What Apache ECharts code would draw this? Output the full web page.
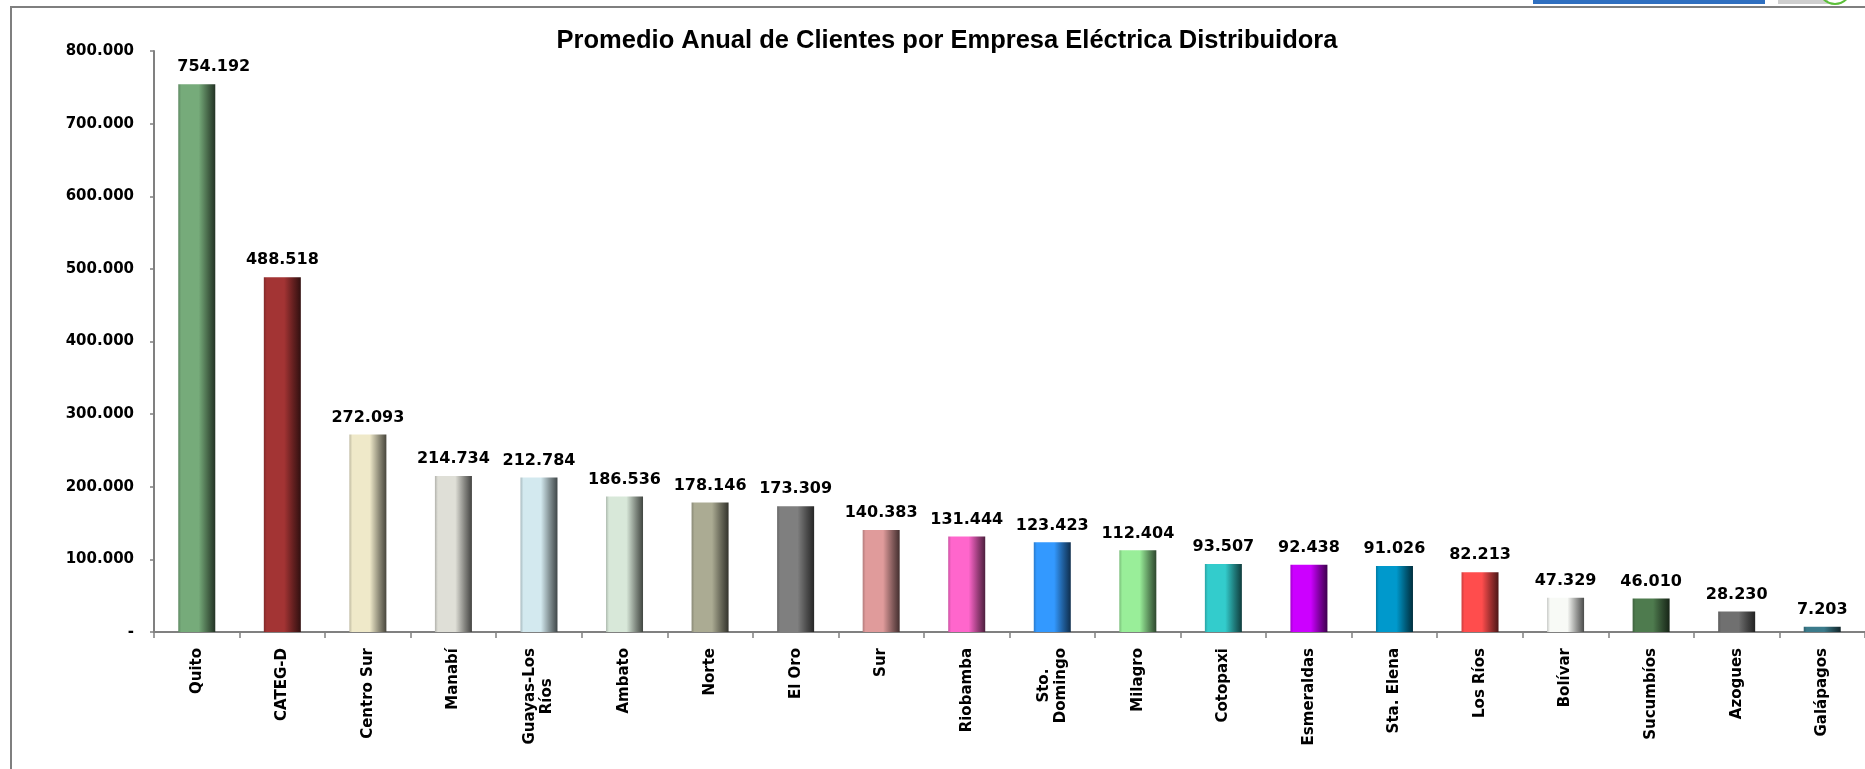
<!DOCTYPE html>
<html>
<head>
<meta charset="utf-8">
<script src="https://cdn.jsdelivr.net/npm/echarts@6/dist/echarts.min.js"></script>
<style>
html,body{margin:0;padding:0;background:#fff;}
#chart{width:1865px;height:769px;}
</style>
</head>
<body>
<div id="chart"></div>
<script>
const categories = ['Quito','CATEG-D','Centro Sur','Manabí','Guayas-Los\nRíos','Ambato','Norte','El Oro','Sur','Riobamba','Sto.\nDomingo','Milagro','Cotopaxi','Esmeraldas','Sta. Elena','Los Ríos','Bolívar','Sucumbíos','Azogues','Galápagos'];
const clientes = [754192,488518,272093,214734,212784,186536,178146,173309,140383,131444,123423,112404,93507,92438,91026,82213,47329,46010,28230,7203];
const barColors = ['#76ab7a','#a33434','#efe9c9','#dfdfd7','#d3e9ef','#d8e8d9','#abab93','#7f7f7f','#e09b9b','#ff66cc','#3399ff','#99ee99','#33cccc','#cc00ff','#0099cc','#ff4d4d','#f8faf6','#4e7b4e','#707070','#3b7b8b'];
const yTicks = [0,100000,200000,300000,400000,500000,600000,700000,800000];

function shade(hex, f){
  const n = parseInt(hex.slice(1),16);
  let r=(n>>16)&255,g=(n>>8)&255,b=n&255;
  r=Math.round(r*f);g=Math.round(g*f);b=Math.round(b*f);
  return 'rgb('+r+','+g+','+b+')';
}
function fmt(v){
  if(v===0) return '-';
  return String(v).replace(/\B(?=(\d{3})+(?!\d))/g,'.');
}

const chart = echarts.init(document.getElementById('chart'));
const data = clientes.map((v,i)=>{
  const item = {
    value:v,
    itemStyle:{
      color:{type:'linear',x:0,y:0,x2:1,y2:0,colorStops:[
        {offset:0,color:shade(barColors[i],0.8)},
        {offset:0.08,color:barColors[i]},
        {offset:0.55,color:barColors[i]},
        {offset:0.8,color:shade(barColors[i],0.6)},
        {offset:1,color:shade(barColors[i],0.3)}
      ]}
    }
  };
  if(i===0) item.label = {offset:[17,0]};
  return item;
});

chart.setOption({
  animation:false,
  backgroundColor:'#ffffff',
  title:{
    text:'Promedio Anual de Clientes por Empresa Eléctrica Distribuidora',
    left:942, top:23, textAlign:'center',
    textStyle:{fontFamily:'Liberation Sans Narrow, Liberation Sans, Arial',fontWeight:'bold',fontSize:25.5,color:'#000'}
  },
  graphic:[
    {type:'rect',shape:{x:11,y:7,width:1900,height:800},style:{fill:'none',stroke:'#7f7f7f',lineWidth:2},z:-1},
    {type:'rect',shape:{x:1533,y:0,width:232,height:4},style:{fill:'#2f6fc0'}},
    {type:'rect',shape:{x:1778,y:0,width:50,height:4},style:{fill:'#cfcfcf'}},
    {type:'arc',shape:{cx:1835,cy:-12,r:16,startAngle:0,endAngle:Math.PI},style:{fill:'none',stroke:'#5cbf3a',lineWidth:2}}
  ],
  grid:{left:154,right:-12,top:51,bottom:137,containLabel:false},
  xAxis:{
    type:'category',
    data:categories,
    axisLine:{lineStyle:{color:'#808080',width:2}},
    axisTick:{show:true,length:6,lineStyle:{color:'#808080',width:1.5}},
    axisLabel:{
      rotate:90, margin:16, interval:0,
      fontFamily:'DejaVu Sans', fontWeight:'bold', fontSize:15, color:'#000',
      formatter:function(v){return v.split('\n').map(s=>'{c|'+s+'}').join('\n');},
      rich:{c:{align:'center',fontFamily:'DejaVu Sans',fontWeight:'bold',fontSize:15,color:'#000',lineHeight:17}}
    }
  },
  yAxis:{
    type:'value', min:yTicks[0], max:yTicks[yTicks.length-1], interval:yTicks[1]-yTicks[0],
    splitLine:{show:false},
    axisLine:{show:true,lineStyle:{color:'#808080',width:2}},
    axisTick:{show:true,length:4,lineStyle:{color:'#808080',width:1.5}},
    axisLabel:{margin:20,fontFamily:'DejaVu Sans',fontWeight:'bold',fontSize:15,color:'#000',formatter:fmt}
  },
  series:[{
    type:'bar',
    data:data,
    barWidth:37,
    label:{show:true,position:'top',distance:9,fontFamily:'DejaVu Sans',fontWeight:'bold',fontSize:16,color:'#000',formatter:p=>fmt(p.value)}
  }]
});
</script>
</body>
</html>
